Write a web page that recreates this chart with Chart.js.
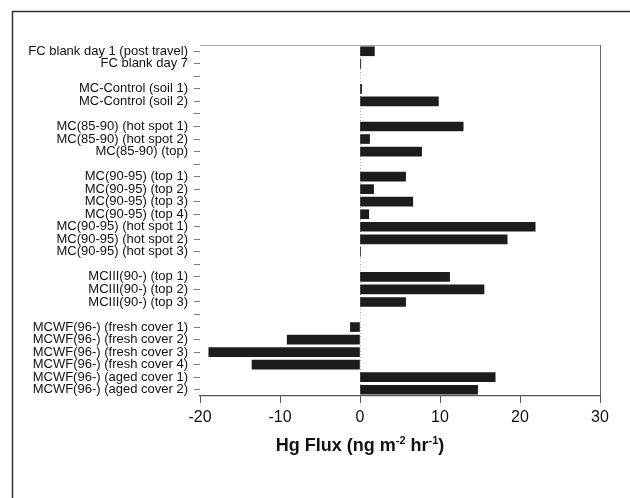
<!DOCTYPE html>
<html>
<head>
<meta charset="utf-8">
<script src="https://cdn.jsdelivr.net/npm/chart.js@4.4.1/dist/chart.umd.min.js"></script>
<style>
  html, body { margin: 0; padding: 0; background: #fff; }
  #wrap { width: 630px; height: 498px; position: relative; }
</style>
</head>
<body>
<div id="wrap"><canvas id="chart" width="630" height="498"></canvas></div>
<script>
// sites (empty strings = gaps between groups)
const sites = [
    'FC blank day 1 (post travel)',
    'FC blank day 7',
    '',
    'MC-Control (soil 1)',
    'MC-Control (soil 2)',
    '',
    'MC(85-90) (hot spot 1)',
    'MC(85-90) (hot spot 2)',
    'MC(85-90) (top)',
    '',
    'MC(90-95) (top 1)',
    'MC(90-95) (top 2)',
    'MC(90-95) (top 3)',
    'MC(90-95) (top 4)',
    'MC(90-95) (hot spot 1)',
    'MC(90-95) (hot spot 2)',
    'MC(90-95) (hot spot 3)',
    '',
    'MCIII(90-) (top 1)',
    'MCIII(90-) (top 2)',
    'MCIII(90-) (top 3)',
    '',
    'MCWF(96-) (fresh cover 1)',
    'MCWF(96-) (fresh cover 2)',
    'MCWF(96-) (fresh cover 3)',
    'MCWF(96-) (fresh cover 4)',
    'MCWF(96-) (aged cover 1)',
    'MCWF(96-) (aged cover 2)'
];

// Hg flux, ng m-2 hr-1
const hgFlux = [
    1.8, 0.1, null,
    0.2, 9.8, null,
    12.9, 1.2, 7.7, null,
    5.7, 1.7, 6.6, 1.1, 21.9, 18.4, 0.05, null,
    11.2, 15.5, 5.7, null,
    -1.2, -9.1, -18.9, -13.5, 16.9, 14.7
];

const xTicks = [-20, -10, 0, 10, 20, 30];

// axis title pieces: [text, superscript?]
const xTitle = [['Hg Flux (ng m', false], ['-2', true], [' hr', false], ['-1', true], [')', false]];

// frame lines: outer page frame + top/right of plot, and the x title
const framePlugin = {
    id: 'frame',
    afterDraw(chart) {
        const c = chart.ctx;
        const a = chart.chartArea;
        c.save();
        c.strokeStyle = '#333';
        c.lineWidth = 1.5;
        c.beginPath();
        c.moveTo(12.5, 498);
        c.lineTo(12.5, 11.5);
        c.lineTo(630, 11.5);
        c.stroke();

        c.lineWidth = 1;
        c.strokeStyle = '#aaa';
        c.beginPath();
        c.moveTo(a.left, a.top + 0.5);
        c.lineTo(a.right, a.top + 0.5);
        c.stroke();
        c.strokeStyle = '#666';
        c.beginPath();
        c.moveTo(a.right + 0.5, a.top);
        c.lineTo(a.right + 0.5, a.bottom);
        c.stroke();

        // title with superscripts, centred on zero like the original
        const big = 'bold 18px "Liberation Sans", Arial, sans-serif';
        const small = 'bold 11px "Liberation Sans", Arial, sans-serif';
        let w = 0;
        xTitle.forEach(([t, sup]) => {
            c.font = sup ? small : big;
            w += c.measureText(t).width;
        });
        const cx = chart.scales.x.getPixelForValue(0);
        let x = cx - w / 2;
        const base = 451;
        c.fillStyle = '#111';
        c.textBaseline = 'alphabetic';
        c.textAlign = 'left';
        xTitle.forEach(([t, sup]) => {
            c.font = sup ? small : big;
            c.fillText(t, x, sup ? base - 7 : base);
            x += c.measureText(t).width;
        });
        c.restore();
    }
};

const ctx = document.getElementById('chart').getContext('2d');

new Chart(ctx, {
    type: 'bar',
    data: {
        labels: sites,
        datasets: [{
            data: hgFlux,
            backgroundColor: '#1c1c1c',
            borderWidth: 0,
            barThickness: 9
        }]
    },
    options: {
        indexAxis: 'y',
        animation: false,
        responsive: false,
        devicePixelRatio: 1,
        layout: {
            padding: { left: 0, right: 30, top: 45, bottom: 0 }
        },
        plugins: {
            legend: { display: false },
            tooltip: { enabled: false }
        },
        scales: {
            x: {
                type: 'linear',
                min: -20,
                max: 30,
                afterBuildTicks: (scale) => {
                    scale.ticks = xTicks.map(v => ({ value: v }));
                },
                afterFit: (scale) => { scale.height = 102; },
                border: { display: true, color: '#555', width: 1.2, dash: [1, 2] },
                grid: {
                    drawOnChartArea: true,
                    color: (c) => c.tick && c.tick.value === 0 ? '#aaa' : 'rgba(0,0,0,0)',
                    tickColor: '#555',
                    tickLength: 7,
                    lineWidth: 1
                },
                ticks: {
                    color: '#111',
                    padding: 5,
                    font: { family: 'Liberation Sans, Arial, sans-serif', size: 16 }
                }
            },
            y: {
                offset: true,
                afterFit: (scale) => { scale.width = 200; },
                border: { display: false },
                grid: {
                    offset: false,
                    drawOnChartArea: false,
                    tickColor: '#777',
                    tickLength: 6
                },
                ticks: {
                    autoSkip: false,
                    color: '#111',
                    padding: 6,
                    font: { family: 'Liberation Sans, Arial, sans-serif', size: 13 }
                }
            }
        }
    },
    plugins: [framePlugin]
});
</script>
</body>
</html>
